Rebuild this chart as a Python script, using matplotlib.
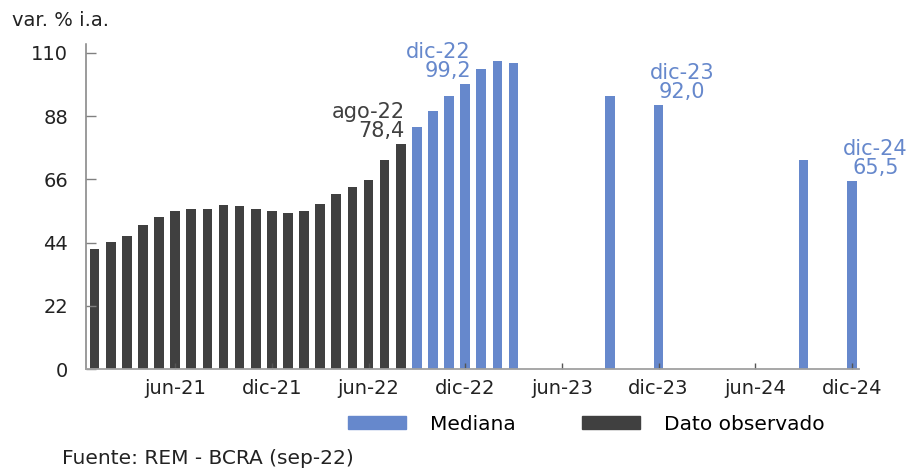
import matplotlib.pyplot as plt
from matplotlib.patches import Patch

plt.rcParams['font.family'] = ['DejaVu Sans']

# meses ene-21 .. dic-24
meses_abr = ["ene", "feb", "mar", "abr", "may", "jun",
             "jul", "ago", "sep", "oct", "nov", "dic"]
meses = [m + "-" + a for a in ["21", "22", "23", "24"] for m in meses_abr]

# dato observado (var. % i.a.)
obs_meses = meses[:20]
obs_val = [41.8, 44.1, 46.2, 50.1, 52.9, 54.9, 55.6, 55.8, 57.1, 56.7,
           55.8, 55.1, 54.3, 54.9, 57.5, 60.8, 63.5, 65.8, 72.6, 78.4]

# mediana REM
med_meses = ["sep-22", "oct-22", "nov-22", "dic-22", "ene-23", "feb-23",
             "mar-23", "sep-23", "dic-23", "sep-24", "dic-24"]
med_val = [84.4, 89.9, 95.1, 99.2, 104.4, 107.2, 106.5, 95.1, 92.0, 72.7, 65.5]

tick_meses = ["jun-21", "dic-21", "jun-22", "dic-22",
              "jun-23", "dic-23", "jun-24", "dic-24"]
yticks = [0, 22, 44, 66, 88, 110]

gris = "#404040"
azul = "#6688cc"

x_obs = [meses.index(m) for m in obs_meses]
x_med = [meses.index(m) for m in med_meses]

fig = plt.figure(figsize=(9.19, 4.68), dpi=100)
ax = fig.add_axes([0.0936, 0.211, 0.841, 0.695])

ax.bar(x_obs, obs_val, width=0.6, color=gris)
ax.bar(x_med, med_val, width=0.6, color=azul)

ax.set_xlim(-0.53, 47.43)
ax.set_ylim(0, 113.1)
ax.set_yticks(yticks)
ax.set_xticks([meses.index(m) for m in tick_meses])
ax.set_xticklabels(tick_meses)

for s in ["top", "right"]:
    ax.spines[s].set_visible(False)
ax.spines["left"].set_color("#808080")
ax.spines["bottom"].set_color("#a0a0a0")
ax.spines["left"].set_linewidth(1.1)
ax.spines["bottom"].set_linewidth(1.3)
ax.tick_params(axis="y", direction="in", length=7, width=1, color="#808080",
               labelsize=14, pad=13, labelcolor="#222222")
ax.tick_params(axis="x", direction="in", length=4, width=1, color="#555555",
               labelsize=14, pad=7, labelcolor="#222222")

# etiquetas de puntos destacados
def etiqueta(mes, val, color, ha, dx):
    i = meses.index(mes)
    txt = mes + "\n" + ("%.1f" % val).replace(".", ",")
    ax.annotate(txt, (i, val), xytext=(dx, 2), textcoords="offset points",
                ha=ha, va="bottom", color=color, fontsize=15,
                linespacing=0.95, multialignment="right" if ha == "right" else "center",
                annotation_clip=False)

etiqueta("ago-22", 78.4, gris, "right", 3)
etiqueta("dic-22", 99.2, azul, "right", 4)
etiqueta("dic-23", 92.0, azul, "center", 17)
etiqueta("dic-24", 65.5, azul, "center", 17)

fig.text(0.013, 0.957, "var. % i.a.", fontsize=14, color="#222222",
         va="center", ha="left")

handles = [Patch(color=azul, label="Mediana"),
           Patch(color=gris, label="Dato observado")]
fig.legend(handles=handles, loc="center", bbox_to_anchor=(0.638, 0.094),
           ncol=2, frameon=False, fontsize=14.5, handlelength=2.85,
           handleheight=0.65, handletextpad=1.2, columnspacing=3.3)

fig.text(0.067, 0.021, "Fuente: REM - BCRA (sep-22)", fontsize=14.5,
         color="#222222", va="center", ha="left")

fig.savefig("out.png", dpi=100)
